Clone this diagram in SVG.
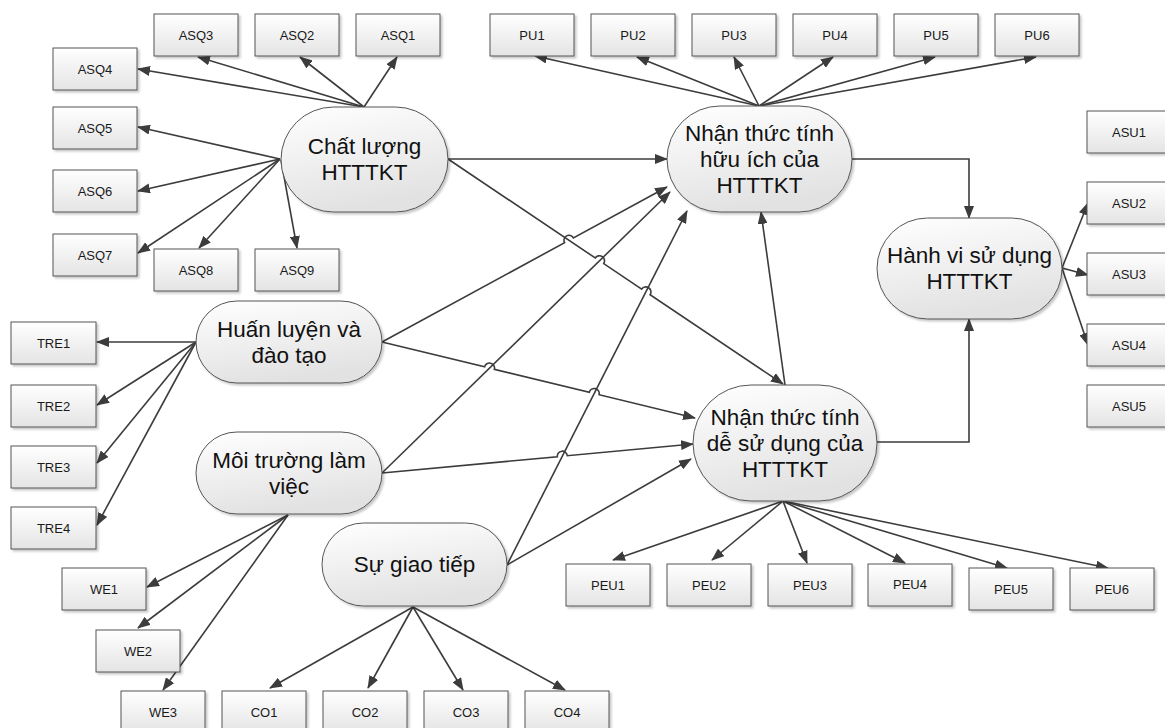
<svg xmlns="http://www.w3.org/2000/svg" width="1165" height="728" viewBox="0 0 1165 728">
  <defs>
    <linearGradient id="boxFill" x1="0" y1="0" x2="0" y2="1">
      <stop offset="0" stop-color="#ffffff"/>
      <stop offset="1" stop-color="#e4e4e4"/>
    </linearGradient>
    <linearGradient id="nodeFill" x1="0" y1="0" x2="0.3" y2="1">
      <stop offset="0" stop-color="#ffffff"/>
      <stop offset="1" stop-color="#e2e2e2"/>
    </linearGradient>
    <filter id="shadow" x="-10%" y="-10%" width="125%" height="130%">
      <feDropShadow dx="2" dy="2" stdDeviation="1.2" flood-color="#000" flood-opacity="0.22"/>
    </filter>
    <marker id="arrow" markerUnits="userSpaceOnUse" markerWidth="13" markerHeight="10" refX="12" refY="5" orient="auto">
      <path d="M0,0 L13,5 L0,10 z" fill="#3c3c3c"/>
    </marker>
    <style>
      .box rect { fill: url(#boxFill); stroke: #555; stroke-width: 1; filter: url(#shadow); }
      .box text { font-family: "Liberation Sans", Arial, sans-serif; font-size: 13px; fill: #1a1a1a; text-anchor: middle; }
      .node rect { fill: url(#nodeFill); stroke: #555; stroke-width: 1; filter: url(#shadow); }
      .node text { font-family: "Liberation Sans", Arial, sans-serif; font-size: 22.5px; fill: #111; text-anchor: middle; }
      #connectors path { fill: none; stroke: #3c3c3c; stroke-width: 1.6; marker-end: url(#arrow); }
    </style>
  </defs>

  <rect width="1165" height="728" fill="#ffffff"/>

  <!-- connectors -->
  <g id="connectors">
    <!-- Chất lượng HTTTKT indicators -->
    <path d="M364,107 L397,57"/>
    <path d="M364,107 L300,57"/>
    <path d="M364,107 L198,57"/>
    <path d="M364,107 L138,69"/>
    <path d="M280,159 L138,127"/>
    <path d="M280,159 L138,191"/>
    <path d="M280,159 L138,253"/>
    <path d="M280,159 L199,248"/>
    <path d="M281,160 L297,248"/>
    <!-- usefulness indicators -->
    <path d="M759,106 L535,56"/>
    <path d="M759,106 L637,57"/>
    <path d="M759,106 L734,57"/>
    <path d="M759,106 L833,57"/>
    <path d="M759,106 L935,57"/>
    <path d="M759,106 L1036,57"/>
    <!-- usage indicators -->
    <path d="M1062,268 L1088,203"/>
    <path d="M1062,268 L1088,275"/>
    <path d="M1062,268 L1088,345"/>
    <!-- training indicators -->
    <path d="M196,342 L97,342"/>
    <path d="M196,342 L97,405"/>
    <path d="M196,342 L97,463"/>
    <path d="M196,342 L97,525"/>
    <!-- work environment indicators -->
    <path d="M288,515 L147,587"/>
    <path d="M288,515 L138,628"/>
    <path d="M288,515 L163,690"/>
    <!-- communication indicators -->
    <path d="M413,607 L270,688"/>
    <path d="M413,607 L368,688"/>
    <path d="M413,607 L463,690"/>
    <path d="M413,607 L565,690"/>
    <!-- ease of use indicators -->
    <path d="M783,501 L613,560"/>
    <path d="M783,501 L712,560"/>
    <path d="M783,501 L807,563"/>
    <path d="M783,501 L905,563"/>
    <path d="M783,501 L1007,568"/>
    <path d="M783,501 L1108,568"/>

    <!-- structural paths (with line jumps) -->
    <path d="M448,159 L667,159"/>
    <path d="M448,159 L595.3,258 A5,5 0 0 1 603.7,263.6 L641.7,289.1 A5,5 0 0 1 650.1,294.7 L783,384"/>
    <path d="M382,342 L564.6,242.7 A5,5 0 0 1 573.4,237.9 L667,187"/>
    <path d="M382,342 L484.6,366.9 A5,5 0 0 1 494.4,369.3 L589.3,392.3 A5,5 0 0 1 599.1,394.7 L695,418"/>
    <path d="M382,473 L670,192"/>
    <path d="M382,473 L557.3,456.7 A5,5 0 0 1 567.3,455.7 L693,444"/>
    <path d="M507,565 L687,211"/>
    <path d="M507,565 L691,459"/>
    <path d="M785,385 L761,212"/>
    <path d="M852,159 L969,159 L969,218"/>
    <path d="M877,442 L969,442 L969,319"/>
  </g>

  <!-- latent constructs -->
  <g id="chat-luong" class="node">
    <rect x="281" y="107" width="167" height="105" rx="52.5"/>
    <text x="364.5" y="154">Chất lượng</text>
    <text x="364.5" y="180">HTTTKT</text>
  </g>
  <g id="huu-ich" class="node">
    <rect x="667" y="106" width="185" height="106" rx="53"/>
    <text x="759.5" y="140.5">Nhận thức tính</text>
    <text x="759.5" y="166.5">hữu ích của</text>
    <text x="759.5" y="192.5">HTTTKT</text>
  </g>
  <g id="hanh-vi" class="node">
    <rect x="877" y="218" width="185" height="101" rx="50.5"/>
    <text x="969.5" y="263">Hành vi sử dụng</text>
    <text x="969.5" y="289">HTTTKT</text>
  </g>
  <g id="de-su-dung" class="node">
    <rect x="693" y="385" width="184" height="116" rx="58"/>
    <text x="785" y="424.5">Nhận thức tính</text>
    <text x="785" y="450.5">dễ sử dụng của</text>
    <text x="785" y="476.5">HTTTKT</text>
  </g>
  <g id="huan-luyen" class="node">
    <rect x="196" y="301" width="186" height="82" rx="41"/>
    <text x="289" y="336.5">Huấn luyện và</text>
    <text x="289" y="362.5">đào tạo</text>
  </g>
  <g id="moi-truong" class="node">
    <rect x="196" y="432" width="186" height="82" rx="41"/>
    <text x="289" y="467.5">Môi trường làm</text>
    <text x="289" y="493.5">việc</text>
  </g>
  <g id="giao-tiep" class="node">
    <rect x="322" y="523" width="185" height="83" rx="41.5"/>
    <text x="414.5" y="572">Sự giao tiếp</text>
  </g>

  <!-- indicator boxes -->
  <g id="ASQ1" class="box"><rect x="356" y="14" width="84" height="42"/><text x="398" y="39.5">ASQ1</text></g>
  <g id="ASQ2" class="box"><rect x="255" y="14" width="84" height="42"/><text x="297" y="39.5">ASQ2</text></g>
  <g id="ASQ3" class="box"><rect x="154" y="14" width="84" height="42"/><text x="196" y="39.5">ASQ3</text></g>
  <g id="ASQ4" class="box"><rect x="53" y="48" width="84" height="42"/><text x="95" y="73.5">ASQ4</text></g>
  <g id="ASQ5" class="box"><rect x="53" y="107" width="84" height="42"/><text x="95" y="132.5">ASQ5</text></g>
  <g id="ASQ6" class="box"><rect x="53" y="170" width="84" height="42"/><text x="95" y="195.5">ASQ6</text></g>
  <g id="ASQ7" class="box"><rect x="53" y="234" width="84" height="42"/><text x="95" y="259.5">ASQ7</text></g>
  <g id="ASQ8" class="box"><rect x="154" y="249" width="84" height="42"/><text x="196" y="274.5">ASQ8</text></g>
  <g id="ASQ9" class="box"><rect x="255" y="249" width="84" height="42"/><text x="297" y="274.5">ASQ9</text></g>

  <g id="PU1" class="box"><rect x="490" y="14" width="84" height="42"/><text x="532" y="39.5">PU1</text></g>
  <g id="PU2" class="box"><rect x="591" y="14" width="84" height="42"/><text x="633" y="39.5">PU2</text></g>
  <g id="PU3" class="box"><rect x="692" y="14" width="84" height="42"/><text x="734" y="39.5">PU3</text></g>
  <g id="PU4" class="box"><rect x="793" y="14" width="84" height="42"/><text x="835" y="39.5">PU4</text></g>
  <g id="PU5" class="box"><rect x="894" y="14" width="84" height="42"/><text x="936" y="39.5">PU5</text></g>
  <g id="PU6" class="box"><rect x="995" y="14" width="84" height="42"/><text x="1037" y="39.5">PU6</text></g>

  <g id="ASU1" class="box"><rect x="1087" y="111" width="84" height="42"/><text x="1129" y="136.5">ASU1</text></g>
  <g id="ASU2" class="box"><rect x="1087" y="182" width="84" height="42"/><text x="1129" y="207.5">ASU2</text></g>
  <g id="ASU3" class="box"><rect x="1087" y="253" width="84" height="42"/><text x="1129" y="278.5">ASU3</text></g>
  <g id="ASU4" class="box"><rect x="1087" y="324" width="84" height="42"/><text x="1129" y="349.5">ASU4</text></g>
  <g id="ASU5" class="box"><rect x="1087" y="385" width="84" height="42"/><text x="1129" y="410.5">ASU5</text></g>

  <g id="TRE1" class="box"><rect x="11" y="322" width="85" height="42"/><text x="53.5" y="347.5">TRE1</text></g>
  <g id="TRE2" class="box"><rect x="11" y="385" width="85" height="42"/><text x="53.5" y="410.5">TRE2</text></g>
  <g id="TRE3" class="box"><rect x="11" y="446" width="85" height="42"/><text x="53.5" y="471.5">TRE3</text></g>
  <g id="TRE4" class="box"><rect x="11" y="507" width="85" height="42"/><text x="53.5" y="532.5">TRE4</text></g>

  <g id="WE1" class="box"><rect x="62" y="568" width="84" height="42"/><text x="104" y="593.5">WE1</text></g>
  <g id="WE2" class="box"><rect x="96" y="630" width="84" height="42"/><text x="138" y="655.5">WE2</text></g>
  <g id="WE3" class="box"><rect x="121" y="691" width="84" height="42"/><text x="163" y="716.5">WE3</text></g>

  <g id="CO1" class="box"><rect x="222" y="691" width="84" height="42"/><text x="264" y="716.5">CO1</text></g>
  <g id="CO2" class="box"><rect x="323" y="691" width="84" height="42"/><text x="365" y="716.5">CO2</text></g>
  <g id="CO3" class="box"><rect x="424" y="691" width="84" height="42"/><text x="466" y="716.5">CO3</text></g>
  <g id="CO4" class="box"><rect x="525" y="691" width="84" height="42"/><text x="567" y="716.5">CO4</text></g>

  <g id="PEU1" class="box"><rect x="566" y="564" width="84" height="42"/><text x="608" y="589.5">PEU1</text></g>
  <g id="PEU2" class="box"><rect x="667" y="564" width="84" height="42"/><text x="709" y="589.5">PEU2</text></g>
  <g id="PEU3" class="box"><rect x="768" y="564" width="84" height="42"/><text x="810" y="589.5">PEU3</text></g>
  <g id="PEU4" class="box"><rect x="868" y="564" width="84" height="42"/><text x="910" y="588.5">PEU4</text></g>
  <g id="PEU5" class="box"><rect x="969" y="568" width="84" height="42"/><text x="1011" y="593.5">PEU5</text></g>
  <g id="PEU6" class="box"><rect x="1070" y="568" width="84" height="42"/><text x="1112" y="593.5">PEU6</text></g>
</svg>
